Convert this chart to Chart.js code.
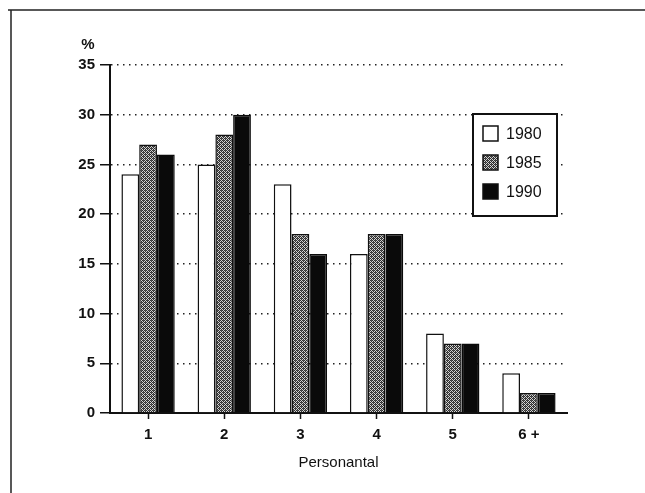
<!DOCTYPE html>
<html>
<head>
<meta charset="utf-8">
<script src="https://cdn.jsdelivr.net/npm/chart.js@4.4.1/dist/chart.umd.min.js"></script>
<style>
  html, body { margin: 0; padding: 0; background: #fff; }
  #wrap { width: 645px; height: 493px; position: relative; }
</style>
</head>
<body>
<div id="wrap"><canvas id="c" width="645" height="493"></canvas></div>
<script>
const categories = ['1', '2', '3', '4', '5', '6 +'];
const seriesLabels = ['1980', '1985', '1990'];
const values1980 = [24, 25, 23, 16, 8, 4];
const values1985 = [27, 28, 18, 18, 7, 2];
const values1990 = [26, 30, 16, 18, 7, 2];
const yTicks = [0, 5, 10, 15, 20, 25, 30, 35];
const yUnit = '%';
const xTitle = 'Personantal';

const FONT = '"Liberation Sans", Arial, Helvetica, sans-serif';

function makePattern() {
  const pc = document.createElement('canvas');
  pc.width = 4; pc.height = 4;
  const p = pc.getContext('2d');
  p.fillStyle = '#d4d4d4';
  p.fillRect(0, 0, 4, 4);
  p.fillStyle = '#2e2e2e';
  for (let yy = 0; yy < 4; yy++) {
    for (let xx = 0; xx < 4; xx++) {
      if ((xx + yy) % 2 === 0) p.fillRect(xx, yy, 1, 1);
    }
  }
  p.fillStyle = '#555';
  p.fillRect(1, 2, 1, 1);
  p.fillRect(3, 0, 1, 1);
  return document.getElementById('c').getContext('2d').createPattern(pc, 'repeat');
}
const grayPattern = makePattern();

const frame = {
  id: 'frame',
  beforeDraw(chart) {
    const ctx = chart.ctx;
    ctx.save();
    ctx.fillStyle = '#fff';
    ctx.fillRect(0, 0, chart.width, chart.height);
    ctx.strokeStyle = '#222';
    ctx.lineWidth = 1.5;
    ctx.beginPath();
    ctx.moveTo(8, 10); ctx.lineTo(645, 10);
    ctx.moveTo(11, 10); ctx.lineTo(11, 493);
    ctx.stroke();
    ctx.restore();
  },
  afterDraw(chart) {
    const ctx = chart.ctx;
    const y = chart.scales.y;
    ctx.save();
    ctx.fillStyle = '#111';
    ctx.font = 'bold 15px ' + FONT;
    ctx.textAlign = 'center';
    ctx.textBaseline = 'middle';
    ctx.fillText(yUnit, 88, y.top - 20);
    ctx.restore();
  }
};

const boxLegend = {
  id: 'boxLegend',
  afterDatasetsDraw(chart) {
    const ctx = chart.ctx;
    const x0 = 473, y0 = 114, w = 84, h = 102;
    ctx.save();
    ctx.fillStyle = '#fff';
    ctx.fillRect(x0, y0, w, h);
    ctx.strokeStyle = '#111';
    ctx.lineWidth = 2;
    ctx.strokeRect(x0, y0, w, h);
    ctx.font = '16px ' + FONT;
    ctx.textBaseline = 'middle';
    ctx.textAlign = 'left';
    const rows = [134, 163, 192];
    chart.data.datasets.forEach((ds, i) => {
      const cy = rows[i];
      ctx.fillStyle = ds.backgroundColor;
      ctx.fillRect(483, cy - 8, 15, 15);
      ctx.lineWidth = 1.5;
      ctx.strokeStyle = '#111';
      ctx.strokeRect(483, cy - 8, 15, 15);
      ctx.fillStyle = '#111';
      ctx.fillText(ds.label, 506, cy + 1);
    });
    ctx.restore();
  }
};

new Chart(document.getElementById('c'), {
  type: 'bar',
  data: {
    labels: categories,
    datasets: [
      { label: seriesLabels[0], data: values1980, backgroundColor: '#ffffff', borderColor: '#111', borderWidth: 1.5 },
      { label: seriesLabels[1], data: values1985, backgroundColor: grayPattern, borderColor: '#111', borderWidth: 1.5 },
      { label: seriesLabels[2], data: values1990, backgroundColor: '#0a0a0a', borderColor: '#0a0a0a', borderWidth: 1.5 }
    ]
  },
  plugins: [frame, boxLegend],
  options: {
    responsive: false,
    animation: false,
    devicePixelRatio: 1,
    categoryPercentage: 0.7,
    barPercentage: 1.0,
    layout: { padding: { top: 65, right: 78, left: 0, bottom: 0 } },
    plugins: { legend: { display: false }, tooltip: { enabled: false } },
    scales: {
      x: {
        offset: true,
        grid: { display: true, drawOnChartArea: false, offset: false, tickLength: 6, tickColor: '#111', tickWidth: 1.5 },
        border: { display: true, color: '#111', width: 2 },
        ticks: { color: '#111', font: { family: FONT, size: 15, weight: 'bold' }, padding: 7 },
        title: { display: true, text: xTitle, color: '#111', font: { family: FONT, size: 15 }, padding: { top: 0, bottom: 21 } },
        afterFit(s) { s.height = 80; }
      },
      y: {
        min: 0, max: 35,
        afterBuildTicks(s) { s.ticks = yTicks.map(v => ({ value: v })); },
        grid: { color: '#222', lineWidth: 1.5, tickLength: 10, tickColor: '#111', tickWidth: 1.5 },
        border: { display: true, color: '#111', width: 2, dash: [1.5, 4.5] },
        ticks: { color: '#111', font: { family: FONT, size: 15, weight: 'bold' }, padding: 5 },
        afterFit(s) { s.width = 110; }
      }
    }
  }
});
</script>
</body>
</html>
